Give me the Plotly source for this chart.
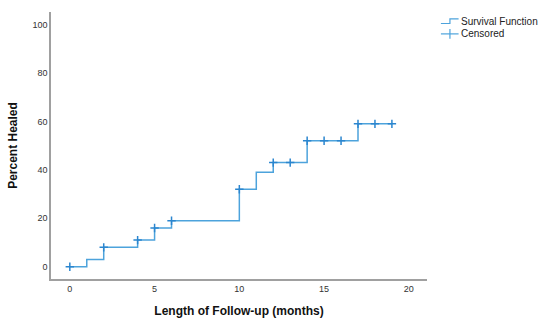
import plotly.graph_objects as go

# Kaplan-Meier style cumulative healing curve
step_times = [0, 1, 2, 4, 5, 6, 10, 11, 12, 14, 17, 19]
step_pct = [0, 3, 8, 11, 16, 19, 32, 39, 43, 52, 59, 59]

censor_times = [0, 2, 4, 5, 6, 10, 12, 13, 14, 15, 16, 17, 18, 19]
censor_pct = [0, 8, 11, 16, 19, 32, 43, 43, 52, 52, 52, 59, 59, 59]

x_ticks = [0, 5, 10, 15, 20]
y_ticks = [0, 20, 40, 60, 80, 100]

line_color = "#4da3dc"
mark_color = "#2b86cf"

fig = go.Figure()
fig.add_trace(go.Scatter(
    x=step_times, y=step_pct, mode="lines",
    line=dict(shape="hv", color=line_color, width=1.5),
    name="Survival Function", showlegend=False,
))
fig.add_trace(go.Scatter(
    x=censor_times, y=censor_pct, mode="markers",
    marker=dict(symbol="cross-thin", size=6,
                line=dict(color=mark_color, width=1.5)),
    name="Censored", showlegend=False,
))

# legend drawn in paper coordinates: step icon and cross icon
shapes = [
    dict(type="path", xref="paper", yref="paper",
         path="M 1.037,0.957 L 1.061,0.957 L 1.061,0.974 L 1.084,0.974",
         line=dict(color=line_color, width=1.2)),
    dict(type="line", xref="paper", yref="paper",
         x0=1.037, x1=1.084, y0=0.918, y1=0.918,
         line=dict(color=line_color, width=1.2)),
    dict(type="line", xref="paper", yref="paper",
         x0=1.061, x1=1.061, y0=0.900, y1=0.936,
         line=dict(color=line_color, width=1.2)),
]
annotations = [
    dict(text="Survival Function", xref="paper", yref="paper",
         x=1.086, y=0.963, xanchor="left", yanchor="middle", showarrow=False,
         font=dict(family="Arial", size=10, color="#222")),
    dict(text="Censored", xref="paper", yref="paper",
         x=1.086, y=0.918, xanchor="left", yanchor="middle", showarrow=False,
         font=dict(family="Arial", size=10, color="#222")),
]

fig.update_layout(
    width=539, height=329,
    margin=dict(l=48, r=112, t=12, b=50),
    paper_bgcolor="white", plot_bgcolor="white",
    font=dict(family="Arial", color="#333"),
    shapes=shapes, annotations=annotations,
)
fig.update_xaxes(
    range=[-1.11, 21.07], tickvals=x_ticks, showgrid=False, zeroline=False,
    showline=True, linecolor="#a0a0a0", linewidth=1.5, ticks="",
    tickfont=dict(size=9, color="#333"),
    title=dict(text="<b>Length of Follow-up (months)</b>",
               font=dict(size=12, color="#111"), standoff=14),
)
fig.update_yaxes(
    range=[-5.07, 105.2], tickvals=y_ticks, showgrid=False, zeroline=False,
    showline=True, linecolor="#a0a0a0", linewidth=1.5, ticks="",
    tickfont=dict(size=9, color="#333"),
    title=dict(text="<b>Percent Healed</b>",
               font=dict(size=12, color="#111"), standoff=12),
)

fig.write_html("out.html")
